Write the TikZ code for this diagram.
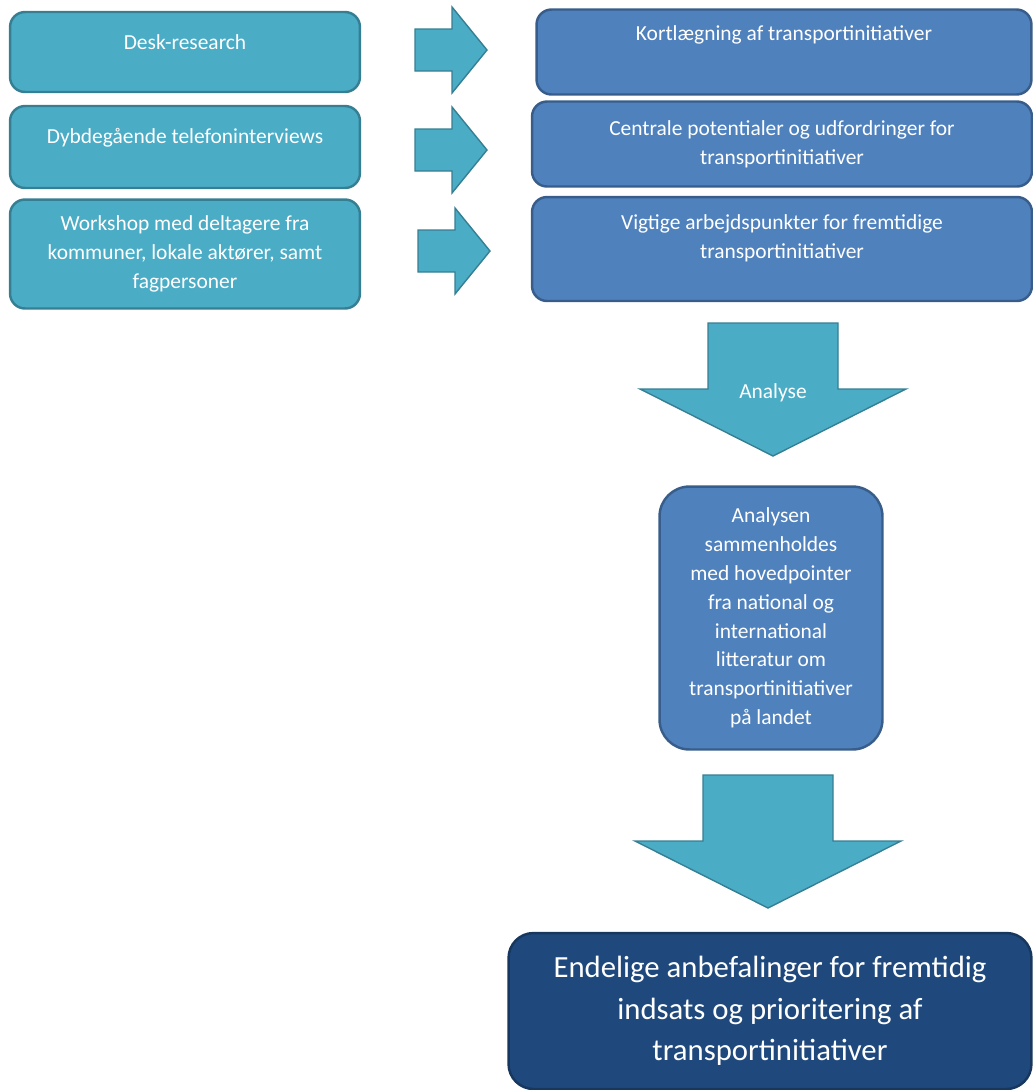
\documentclass[tikz,border=0pt]{standalone}
\usepackage{fontspec}
\setmainfont{Carlito}
\definecolor{tealfill}{HTML}{4BACC6}
\definecolor{tealline}{HTML}{367F93}
\definecolor{bluefill}{HTML}{4F81BD}
\definecolor{blueline}{HTML}{385D8A}
\definecolor{navyfill}{HTML}{1F497D}
\definecolor{navyline}{HTML}{17375E}
\begin{document}
\begin{tikzpicture}[x=0.02cm,y=-0.02cm]

    \tikzset{
      box/.style={
        draw,
        line width=1.4pt,
        rounded corners=0.3cm,
        text=white,
        align=center,
        font=\fontsize{12.2}{16.4}\selectfont,
      },
      tealbox/.style={box, fill=tealfill, draw=tealline, minimum width=7cm},
      bluebox/.style={box, fill=bluefill, draw=blueline},
      textup/.style={text depth=#1},
      blockarrow/.style={fill=tealfill, draw=tealline, line width=0.8pt},
    }
    \useasboundingbox (0,0) rectangle (1033,1090);

    \node[tealbox, minimum height=1.6cm, textup=0.4cm] (desk) at (185,52) {Desk-research};
    \node[tealbox, minimum height=1.64cm, textup=0.46cm] (tlf) at (185,147) {Dybdegående telefoninterviews};
    \node[tealbox, minimum height=2.18cm] (workshop) at (185,254) {Workshop med deltagere fra\\kommuner, lokale aktører, samt\\fagpersoner};

    \node[bluebox, minimum width=9.9cm, minimum height=1.7cm, textup=0.74cm] (kort) at (784,52) {Kortlægning af transportinitiativer};
    \node[bluebox, minimum width=10cm, minimum height=1.7cm] (central) at (782,144) {Centrale potentialer og udfordringer for\\transportinitiativer};
    \node[bluebox, minimum width=10cm, minimum height=2.08cm, textup=0.5cm] (vigtige) at (782,249) {Vigtige arbejdspunkter for fremtidige\\transportinitiativer};

    \foreach \xc/\yc in {415/50, 415/150, 418/251}
      \draw[blockarrow] (\xc,\yc-21) -- (\xc+37,\yc-21) -- (\xc+37,\yc-43) -- (\xc+72,\yc)
        -- (\xc+37,\yc+43) -- (\xc+37,\yc+21) -- (\xc,\yc+21) -- cycle;

    \foreach \xc/\ya in {773/323, 768/775}
      \draw[blockarrow] (\xc-65,\ya) -- (\xc+65,\ya) -- (\xc+65,\ya+66) -- (\xc+133,\ya+66)
        -- (\xc,\ya+133) -- (\xc-133,\ya+66) -- (\xc-65,\ya+66) -- cycle;
    \node[text=white, font=\fontsize{12.2}{16.4}\selectfont] (analyse) at (773,393) {Analyse};

    \node[bluebox, rounded corners=0.6cm, minimum width=4.46cm, minimum height=5.26cm] (analysen) at (771,618)
      {Analysen\\sammenholdes\\med hovedpointer\\fra national og\\international\\litteratur om\\transportinitiativer\\på landet};

    \node[box, fill=navyfill, draw=navyline, rounded corners=0.5cm, minimum width=10.46cm, minimum height=3.12cm,
      font=\fontsize{17.5}{23.5}\selectfont] (endelige) at (770,1011)
      {Endelige anbefalinger for fremtidig\\indsats og prioritering af\\transportinitiativer};

\end{tikzpicture}
\end{document}
